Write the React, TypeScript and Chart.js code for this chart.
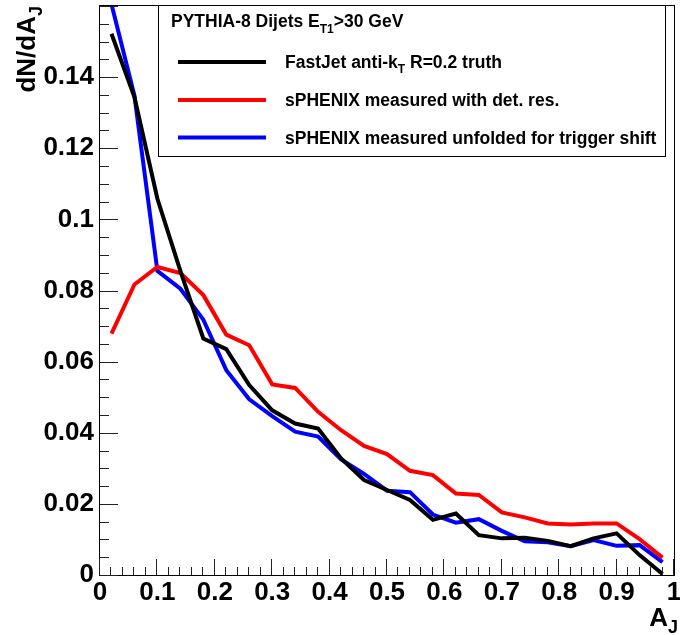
import React, { useEffect, useRef } from 'react';
import { Chart, registerables } from 'chart.js';

Chart.register(...registerables);

// ---- data ----
const binCenters = [0.02, 0.06, 0.1, 0.14, 0.18, 0.22, 0.26, 0.3, 0.34, 0.38, 0.42, 0.46, 0.5, 0.54, 0.58, 0.62, 0.66, 0.7, 0.74, 0.78, 0.82, 0.86, 0.9, 0.94, 0.98];
const truthValues = [0.1522, 0.1344, 0.1058, 0.0855, 0.0665, 0.0635, 0.0534, 0.0463, 0.0426, 0.0412, 0.0328, 0.0267, 0.0239, 0.0211, 0.0155, 0.0173, 0.0112, 0.0103, 0.0105, 0.0096, 0.0081, 0.0103, 0.0117, 0.0056, 0.0003];
const measuredValues = [0.0679, 0.0817, 0.0866, 0.0849, 0.0787, 0.0676, 0.0646, 0.0536, 0.0526, 0.0459, 0.0407, 0.0363, 0.034, 0.0293, 0.0281, 0.0229, 0.0225, 0.0176, 0.0162, 0.0145, 0.0142, 0.0145, 0.0145, 0.0101, 0.0049];
const unfoldedValues = [0.1605, 0.1348, 0.0855, 0.0805, 0.0718, 0.0576, 0.0494, 0.0447, 0.0403, 0.0389, 0.0325, 0.0284, 0.0237, 0.0233, 0.017, 0.0147, 0.0157, 0.0124, 0.0095, 0.0092, 0.0081, 0.0098, 0.0082, 0.0084, 0.0036];

const seriesLabels = [
  [{ t: 'FastJet anti-k' }, { t: 'T', sub: true }, { t: ' R=0.2 truth' }],
  [{ t: 'sPHENIX measured with det. res.' }],
  [{ t: 'sPHENIX measured unfolded for trigger shift' }],
];
const seriesColors = ['#000000', '#ff0000', '#0000ff'];
const legendTitle = [{ t: 'PYTHIA-8 Dijets E' }, { t: 'T1', sub: true }, { t: '>30 GeV' }];
const yTitle = [{ t: 'dN/dA' }, { t: 'J', sub: true }];
const xTitle = [{ t: 'A' }, { t: 'J', sub: true }];

const X_MIN = 0, X_MAX = 1, X_STEP = 0.1, X_MINOR = 0.02;
const Y_MIN = 0, Y_MAX = 0.16, Y_STEP = 0.02, Y_MINOR = 0.005;

const FONT = '"Liberation Sans", Arial, Helvetica, sans-serif';

type Part = { t: string; sub?: boolean };

function richWidth(ctx: CanvasRenderingContext2D, parts: Part[], size: number, subSize: number) {
  let w = 0;
  for (const p of parts) {
    ctx.font = `bold ${p.sub ? subSize : size}px ${FONT}`;
    w += ctx.measureText(p.t).width;
  }
  return w;
}

function drawRich(ctx: CanvasRenderingContext2D, parts: Part[], x: number, y: number, size: number, subSize: number, subDy: number) {
  let cx = x;
  ctx.textBaseline = 'alphabetic';
  ctx.textAlign = 'left';
  for (const p of parts) {
    ctx.font = `bold ${p.sub ? subSize : size}px ${FONT}`;
    ctx.fillText(p.t, cx, p.sub ? y + subDy : y);
    cx += ctx.measureText(p.t).width;
  }
  return cx - x;
}

const rootPlugin = {
  id: 'rootStyle',
  afterDatasetsDraw(chart: any) {
    const { ctx, chartArea: a, scales } = chart;
    const xs = scales.x, ys = scales.y;
    ctx.save();
    // frame
    ctx.strokeStyle = '#000';
    ctx.lineWidth = 1;
    ctx.strokeRect(a.left - 0.5, a.top - 0.5, a.right - a.left + 1, a.bottom - a.top + 1);

    // ticks
    ctx.strokeStyle = '#222';
    ctx.beginPath();
    const nYm = Math.round((Y_MAX - Y_MIN) / Y_MINOR);
    for (let i = 0; i <= nYm; i++) {
      const v = Y_MIN + i * Y_MINOR;
      const py = Math.round(ys.getPixelForValue(v)) + 0.5;
      const major = i % Math.round(Y_STEP / Y_MINOR) === 0;
      const len = major ? 18 : 9;
      ctx.moveTo(a.left, py);
      ctx.lineTo(a.left + len, py);
    }
    const nXm = Math.round((X_MAX - X_MIN) / X_MINOR);
    for (let i = 0; i <= nXm; i++) {
      const v = X_MIN + i * X_MINOR;
      const px = Math.round(xs.getPixelForValue(v)) - 0.5;
      const major = i % Math.round(X_STEP / X_MINOR) === 0;
      const len = major ? 16 : 8;
      ctx.moveTo(px, a.bottom);
      ctx.lineTo(px, a.bottom - len);
    }
    ctx.stroke();

    ctx.fillStyle = '#000';
    // y title (rotated)
    ctx.save();
    ctx.translate(35, a.top);
    ctx.rotate(-Math.PI / 2);
    const wY = richWidth(ctx, yTitle, 26, 18);
    drawRich(ctx, yTitle, -wY, 0, 26, 18, 7);
    ctx.restore();

    // x title
    const wX = richWidth(ctx, xTitle, 26, 18);
    drawRich(ctx, xTitle, 678 - wX, 626, 26, 18, 7);

    // legend
    const lx = 158.5, ly = a.top - 0.5, lw = 507, lh = 151;
    ctx.fillStyle = '#fff';
    ctx.fillRect(lx, ly, lw, lh);
    ctx.strokeStyle = '#000';
    ctx.lineWidth = 1;
    ctx.strokeRect(lx, ly, lw, lh);
    ctx.fillStyle = '#000';
    drawRich(ctx, legendTitle, 171, 27, 17.5, 12, 6);
    const rowY = [62, 100, 137.5];
    chart.data.datasets.forEach((ds: any, i: number) => {
      ctx.strokeStyle = ds.borderColor;
      ctx.lineWidth = 4;
      ctx.beginPath();
      ctx.moveTo(178, rowY[i]);
      ctx.lineTo(266, rowY[i]);
      ctx.stroke();
      ctx.fillStyle = '#000';
      drawRich(ctx, seriesLabels[i], 285, rowY[i] + 6, 17.5, 12, 5);
    });
    ctx.restore();
  },
};

export default function App() {
  const ref = useRef<HTMLCanvasElement | null>(null);
  useEffect(() => {
    document.body.style.margin = '0';
    const canvas = ref.current;
    if (!canvas) return;
    const mk = (vals: number[], i: number) => ({
      label: seriesLabels[i].map((p) => p.t).join(''),
      data: binCenters.map((x, k) => ({ x, y: vals[k] })),
      borderColor: seriesColors[i],
      backgroundColor: seriesColors[i],
      borderWidth: 4,
      pointRadius: 0,
      tension: 0,
      fill: false,
      clip: { left: 2, right: 2, top: 0, bottom: 2 },
    });
    const chart = new Chart(canvas, {
      type: 'line',
      data: {
        datasets: [mk(truthValues, 0), mk(measuredValues, 1), mk(unfoldedValues, 2)],
      },
      plugins: [rootPlugin],
      options: {
        animation: false,
        responsive: false,
        maintainAspectRatio: false,
        devicePixelRatio: 1,
        layout: { padding: { top: 6, right: 6, left: 0, bottom: 0 } },
        plugins: { legend: { display: false }, tooltip: { enabled: false }, title: { display: false } },
        scales: {
          x: {
            type: 'linear',
            min: X_MIN,
            max: X_MAX,
            grid: { display: false, drawTicks: false },
            border: { display: false },
            ticks: {
              stepSize: X_STEP,
              padding: 2,
              color: '#000',
              font: { family: FONT, size: 26, weight: 'bold' },
              maxRotation: 0,
              autoSkip: false,
              callback: (v: any) => String(Number(Number(v).toFixed(3))),
            },
            afterFit: (s: any) => {
              s.height = 60;
              s.paddingLeft = 0;
              s.paddingRight = 0;
            },
          },
          y: {
            type: 'linear',
            min: Y_MIN,
            max: Y_MAX,
            grid: { display: false, drawTicks: false },
            border: { display: false },
            ticks: {
              stepSize: Y_STEP,
              padding: 6,
              color: '#000',
              font: { family: FONT, size: 26, weight: 'bold' },
              autoSkip: false,
              callback: (v: any) => {
                const n = Number(Number(v).toFixed(3));
                return n >= Y_MAX - 1e-9 ? '' : String(n);
              },
            },
            afterFit: (s: any) => {
              s.width = 100;
              s.paddingTop = 0;
              s.paddingBottom = 0;
            },
          },
        },
      } as any,
    });
    return () => chart.destroy();
  }, []);
  return (
    <div style={{ position: 'absolute', left: 0, top: 0, width: 680, height: 635, background: '#fff' }}>
      <canvas ref={ref} width={680} height={635} style={{ display: 'block', width: 680, height: 635 }} />
    </div>
  );
}
